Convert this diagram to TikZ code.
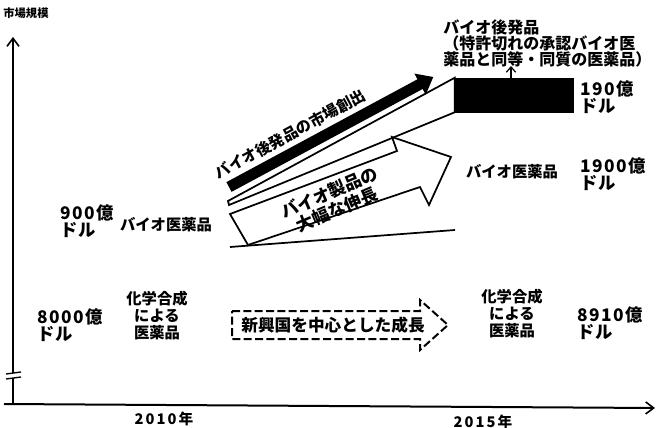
\documentclass[tikz,border=0pt]{standalone}
\usepackage{fontspec}
\setmainfont{Noto Sans CJK JP}
\usetikzlibrary{arrows.meta}
\begin{document}
\begin{tikzpicture}[x=0.75pt,y=-0.75pt,
  big/.style={font=\bfseries\fontsize{13}{12.75}\selectfont\addfontfeature{LetterSpace=8}, align=left, anchor=west, inner sep=0pt},
  mid/.style={font=\bfseries\fontsize{11.5}{12.75}\selectfont, align=center, inner sep=0pt},
  small/.style={font=\bfseries\fontsize{11.5}{12}\selectfont, inner sep=0pt},
  year/.style={font=\bfseries\fontsize{11}{12}\selectfont\addfontfeature{LetterSpace=14}, inner sep=0pt},
  axis/.style={line width=1.5pt, -{Straight Barb[length=6pt,width=9pt,line width=1.2pt]}},
  outline/.style={line width=1.3pt, fill=white, line join=miter},
  dashbox/.style={line width=1.5pt, dash pattern=on 6pt off 2.5pt, line join=miter}]
\useasboundingbox (0,0) rectangle (657,428);

% axes
\coordinate (ybot) at (13,405);
\coordinate (ytop) at (13,37);
\coordinate (xl) at (4,404);
\coordinate (xr) at (655,408);
\draw[axis] (ybot) -- (ytop);
\draw[axis] (xl) -- (xr);
% axis break
\fill[white] (6,373) rectangle (21,378);
\draw[line width=1pt] (6,374) -- (21,372);
\draw[line width=1pt] (6,379) -- (21,377);

\node[font=\bfseries\fontsize{8.5}{9}\selectfont, anchor=west, inner sep=0pt] (ylab) at (3,13) {市場規模};
\node[year] (y2010) at (164,419) {2010年};
\node[year] (y2015) at (483,422) {2015年};

% left labels
\node[big] (v900) at (60,221) {900億\\ドル};
\node[small] (bioL) at (166,225) {バイオ医薬品};
\node[big] (v8000) at (37,325) {8000億\\ドル};
\node[mid] (chemL) at (157,316) {化学合成\\による\\医薬品};

% right labels
\node[mid] (chemR) at (512,314) {化学合成\\による\\医薬品};
\node[big] (v8910) at (577,323) {8910億\\ドル};
\node[small] (bioR) at (512,172) {バイオ医薬品};
\node[big] (v1900) at (580,174) {1900億\\ドル};
\node[big] (v190) at (580,97) {190億\\ドル};

% biosimilar block
\node[fill=black, draw=black, minimum width=88.5pt, minimum height=25.5pt, inner sep=0pt] (bs) at (514,95) {};
\node[font=\bfseries\fontsize{12}{12}\selectfont, align=left, anchor=north west, inner sep=0pt] (bslab) at (443,19) {バイオ後発品\\（特許切れの承認バイオ医\\薬品と同等・同質の医薬品）};
\coordinate (bsarr) at (511,66);
\draw[line width=0.9pt, -{Straight Barb[length=4pt,width=7pt]}] (bs.north -| bsarr) -- (bsarr);

% wedge toward biosimilar block
\coordinate (w1) at (228,201);
\coordinate (w2) at (229,205);
\draw[outline] (w1) -- (bs.north west) -- (bs.south west) -- (w2) -- cycle;

% bio baseline
\coordinate (b1) at (230,247);
\coordinate (b2) at (455,230);
\draw[line width=1.3pt] (b1) -- (b2);

% white growth arrow
\draw[outline] (230,214) -- (397,151) -- (392,137) -- (451,157) -- (429,205) -- (420,187) -- (248,245) -- cycle;
\node[font=\bfseries\fontsize{13}{13.8}\selectfont, align=center, inner sep=0pt, rotate=23] (bigrow) at (333,201) {バイオ製品の\\大幅な伸長};

% black arrow
\begin{scope}[shift={(229,187)}, rotate=28.3]
\fill[black] (0,-5.5) -- (217,-5.5) -- (217,-12) -- (232,0) -- (217,12) -- (217,5.5) -- (0,5.5) -- cycle;
\end{scope}
\node[font=\bfseries\fontsize{11.5}{12}\selectfont, inner sep=0pt, rotate=28.3] (bstext) at (290,134) {バイオ後発品の市場創出};

% dashed arrow
\draw[dashbox] (232,311) -- (420,311) -- (420,300) -- (448,325) -- (420,350) -- (420,339) -- (232,339) -- cycle;
\node[font=\bfseries\fontsize{12.5}{13}\selectfont, inner sep=0pt] (emerg) at (333,325) {新興国を中心とした成長};
\end{tikzpicture}
\end{document}
